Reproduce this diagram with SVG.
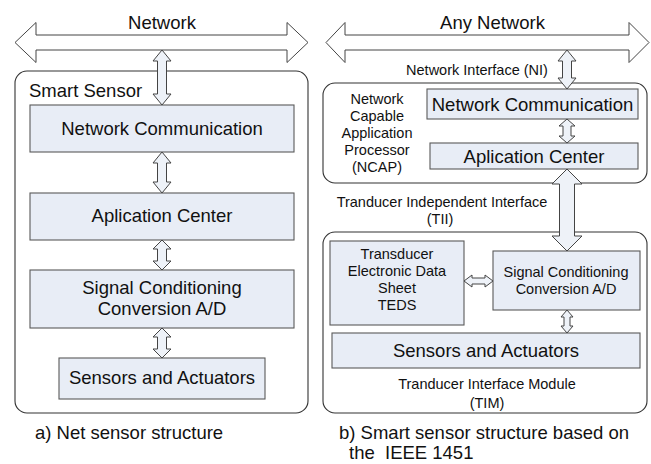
<svg xmlns="http://www.w3.org/2000/svg" width="651" height="464" viewBox="0 0 651 464">
<style>
  text { font-family: "Liberation Sans", Arial, sans-serif; fill: #111; }
  .big { font-size: 18.5px; }
  .small { font-size: 14.5px; }
  .mid { text-anchor: middle; }
  .outer { fill: #fff; stroke: #333; stroke-width: 1.1; }
  .box { fill: #E8EDF6; stroke: #5a5a5a; stroke-width: 1.1; }
  .net { fill: #fff; stroke: #444; stroke-width: 1; stroke-linejoin: miter; }
  .arr { fill: #EEF2F8; stroke: #444; stroke-width: 1; stroke-linejoin: miter; }
</style>
<rect width="651" height="464" fill="#fff"/>

<g id="network-left">
  <polygon class="net" points="15,42.5 36,22.5 36,35 287,35 287,22.5 308,42.5 287,62.5 287,50 36,50 36,62.5"/>
  <text class="big mid" x="162" y="29">Network</text>
</g>
<g id="network-right">
  <polygon class="net" points="326,42.5 345,22.5 345,35 629,35 629,22.5 649,42.5 629,62.5 629,50 345,50 345,62.5"/>
  <text class="big mid" x="492.5" y="29">Any Network</text>
</g>

<g id="smart-sensor">
  <rect class="outer" x="15" y="71" width="293" height="342" rx="12"/>
  <text class="big" x="29" y="97">Smart Sensor</text>
</g>
<g id="left-netcomm">
  <rect class="box" x="30" y="105" width="264" height="47"/>
  <text class="big mid" x="162" y="135">Network Communication</text>
</g>
<g id="left-appcenter">
  <rect class="box" x="30" y="193" width="264" height="47"/>
  <text class="big mid" x="162" y="222">Aplication Center</text>
</g>
<g id="left-signal">
  <rect class="box" x="30" y="270" width="264" height="58"/>
  <text class="big mid" x="162" y="294">Signal Conditioning</text>
  <text class="big mid" x="162" y="315">Conversion A/D</text>
</g>
<g id="left-sensors">
  <rect class="box" x="59" y="358" width="206" height="41"/>
  <text class="big mid" x="162" y="384">Sensors and Actuators</text>
</g>
<g id="caption-a">
  <text class="big" x="35" y="439">a) Net sensor structure</text>
</g>

<g id="ncap">
  <rect class="outer" x="323" y="83" width="324" height="100" rx="12"/>
  <text class="small mid" x="377" y="104">Network</text>
  <text class="small mid" x="377" y="121">Capable</text>
  <text class="small mid" x="377" y="138">Application</text>
  <text class="small mid" x="377" y="155">Processor</text>
  <text class="small mid" x="377" y="172">(NCAP)</text>
</g>
<g id="ni-label">
  <text class="small mid" x="477" y="75">Network Interface (NI)</text>
</g>
<g id="right-netcomm">
  <rect class="box" x="427" y="89" width="211" height="30"/>
  <text class="big mid" x="532.5" y="111">Network Communication</text>
</g>
<g id="right-appcenter">
  <rect class="box" x="430" y="143" width="208" height="26"/>
  <text class="big mid" x="534" y="162.5">Aplication Center</text>
</g>
<g id="tii-label">
  <text class="small mid" x="442" y="207">Tranducer Independent Interface</text>
  <text class="small mid" x="440" y="224">(TII)</text>
</g>
<g id="tim">
  <rect class="outer" x="323" y="232" width="324" height="181" rx="12"/>
  <text class="small mid" x="487" y="389">Tranducer Interface Module</text>
  <text class="small mid" x="487" y="408">(TIM)</text>
</g>
<g id="teds">
  <rect class="box" x="330" y="241" width="134" height="84"/>
  <text class="small mid" x="397" y="259">Transducer</text>
  <text class="small mid" x="397" y="276">Electronic Data</text>
  <text class="small mid" x="397" y="293">Sheet</text>
  <text class="small mid" x="397" y="310">TEDS</text>
</g>
<g id="right-signal">
  <rect class="box" x="493" y="251" width="147" height="59"/>
  <text class="small mid" x="566" y="277">Signal Conditioning</text>
  <text class="small mid" x="566" y="294">Conversion A/D</text>
</g>
<g id="right-sensors">
  <rect class="box" x="332" y="333" width="308" height="35"/>
  <text class="big mid" x="486" y="357">Sensors and Actuators</text>
</g>
<g id="caption-b">
  <text class="big" x="339" y="439">b) Smart sensor structure based on</text>
  <text class="big" x="349" y="459" xml:space="preserve">the  IEEE 1451</text>
</g>

<g id="connectors">
  <polygon class="arr" points="162,50 171,61 166.5,61 166.5,94 171,94 162,105 153,94 157.5,94 157.5,61 153,61"/>
  <polygon class="arr" points="162,152 171,163 166.5,163 166.5,182 171,182 162,193 153,182 157.5,182 157.5,163 153,163"/>
  <polygon class="arr" points="162,240 171,249 166.5,249 166.5,261 171,261 162,270 153,261 157.5,261 157.5,249 153,249"/>
  <polygon class="arr" points="162,328 171,337 166.5,337 166.5,349 171,349 162,358 153,349 157.5,349 157.5,337 153,337"/>
  <polygon class="arr" points="567,50 576,61 571.5,61 571.5,78 576,78 567,89 558,78 562.5,78 562.5,61 558,61"/>
  <polygon class="arr" points="567,119 575,126 571,126 571,136 575,136 567,143 559,136 563,136 563,126 559,126"/>
  <polygon class="arr" points="567,169 582,184 574.5,184 574.5,236 582,236 567,251 552,236 559.5,236 559.5,184 552,184"/>
  <polygon class="arr" points="567,310 573,317 570,317 570,326 573,326 567,333 561,326 564,326 564,317 561,317"/>
  <polygon class="arr" points="464,281 472,275 472,278 485,278 485,275 493,281 485,287 485,284 472,284 472,287"/>
</g>
</svg>
